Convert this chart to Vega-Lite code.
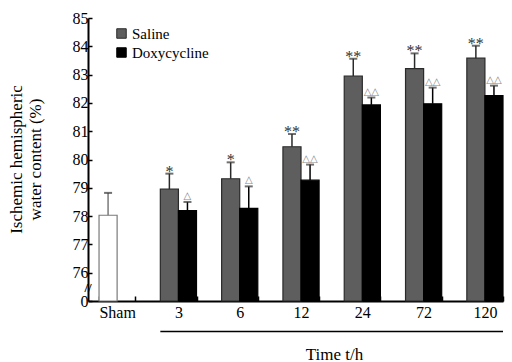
{
  "$schema": "https://vega.github.io/schema/vega-lite/v6.json",
  "width": 415,
  "height": 283,
  "autosize": "none",
  "padding": {"left": 88, "top": 18, "right": 9, "bottom": 61},
  "background": "white",
  "config": {
    "font": "Liberation Serif",
    "view": {"stroke": null},
    "axis": {"grid": false}
  },
  "datasets": {
    "water": [
      {"time": "Sham", "group": "Sham", "value": 78.03, "upper": 78.82, "sig": ""},
      {"time": "3", "group": "Saline", "value": 78.95, "upper": 79.5, "sig": "*"},
      {"time": "3", "group": "Doxycycline", "value": 78.19, "upper": 78.5, "sig": "△"},
      {"time": "6", "group": "Saline", "value": 79.32, "upper": 79.9, "sig": "*"},
      {"time": "6", "group": "Doxycycline", "value": 78.27, "upper": 79.05, "sig": "△"},
      {"time": "12", "group": "Saline", "value": 80.45, "upper": 80.9, "sig": "**"},
      {"time": "12", "group": "Doxycycline", "value": 79.27, "upper": 79.82, "sig": "△△"},
      {"time": "24", "group": "Saline", "value": 82.95, "upper": 83.56, "sig": "**"},
      {"time": "24", "group": "Doxycycline", "value": 81.93, "upper": 82.19, "sig": "△△"},
      {"time": "72", "group": "Saline", "value": 83.21, "upper": 83.75, "sig": "**"},
      {"time": "72", "group": "Doxycycline", "value": 81.97, "upper": 82.54, "sig": "△△"},
      {"time": "120", "group": "Saline", "value": 83.58, "upper": 84.02, "sig": "**"},
      {"time": "120", "group": "Doxycycline", "value": 82.26, "upper": 82.61, "sig": "△△"}
    ],
    "span": [{"from": "3", "to": "120", "level": 73.92}],
    "brk": [{"time": "Sham", "level": 75.45, "mark": "//"}]
  },
  "layer": [
    {
      "data": {"name": "water"},
      "transform": [{"calculate": "datum.group == 'Doxycycline' ? 'b' : 'a'", "as": "slot"}],
      "mark": {"type": "bar", "strokeWidth": 1.2},
      "encoding": {
        "x": {
          "field": "time", "type": "nominal", "sort": null,
          "scale": {"domain": ["Sham", "3", "6", "12", "24", "72", "120"], "paddingInner": 0.41, "paddingOuter": 0.09, "align": 1},
          "axis": {"title": "Time t/h", "labelFont": "Liberation Serif", "titleFont": "Liberation Serif", "titleFontWeight": "normal", "labelFontSize": 16, "titleFontSize": 17, "labelColor": "#000", "titleColor": "#000", "domainColor": "#000", "tickColor": "#000", "domainWidth": 2, "tickWidth": 1.5, "labelAngle": 0, "tickBand": "extent", "tickSize": -5, "labelPadding": 8, "titleX": 246, "titleY": 58, "titleBaseline": "alphabetic", "labelOverlap": false}
        },
        "xOffset": {"field": "slot", "type": "nominal", "sort": null, "scale": {"domain": ["a", "b"], "paddingInner": 0, "paddingOuter": 0}},
        "y": {
          "field": "value", "type": "quantitative",
          "scale": {"domain": [75, 85], "nice": false, "zero": false},
          "axis": {"title": ["Ischemic hemispheric", "water content (%)"], "values": [75, 76, 77, 78, 79, 80, 81, 82, 83, 84, 85], "labelExpr": "datum.value == 75 ? '0' : datum.label", "labelOverlap": false, "labelFont": "Liberation Serif", "titleFont": "Liberation Serif", "titleFontWeight": "normal", "labelFontSize": 16, "titleFontSize": 17, "labelColor": "#000", "titleColor": "#000", "domainColor": "#000", "tickColor": "#000", "domainWidth": 2, "tickWidth": 1.5, "tickSize": -4, "labelPadding": 4, "titleLineHeight": 19, "titleAngle": -90, "titleAlign": "center", "titleBaseline": "middle", "titleX": -72, "titleY": 141}
        },
        "y2": {"datum": 75},
        "color": {
          "field": "group", "type": "nominal",
          "scale": {"domain": ["Saline", "Doxycycline", "Sham"], "range": ["#5e5e5e", "#000000", "#ffffff"]},
          "legend": {
            "orient": "none",
            "legendX": 26,
            "legendY": 8,
            "title": null,
            "values": ["Saline", "Doxycycline"],
            "symbolType": "square",
            "symbolSize": 90,
            "symbolStrokeColor": "#333",
            "symbolStrokeWidth": 1,
            "labelFont": "Liberation Serif",
            "labelFontSize": 15,
            "labelColor": "#000",
            "labelOffset": 3,
            "rowPadding": 3
          }
        },
        "stroke": {
          "field": "group", "type": "nominal",
          "scale": {"domain": ["Saline", "Doxycycline", "Sham"], "range": ["#2a2a2a", "#000000", "#7a7a7a"]},
          "legend": null
        }
      }
    },
    {
      "data": {"name": "water"},
      "transform": [{"calculate": "datum.group == 'Doxycycline' ? 'b' : 'a'", "as": "slot"}],
      "mark": {"type": "rule", "strokeWidth": 1.5},
      "encoding": {
        "x": {"field": "time", "type": "nominal", "sort": null, "axis": {"title": "Time t/h", "labelFont": "Liberation Serif", "titleFont": "Liberation Serif", "titleFontWeight": "normal", "labelFontSize": 16, "titleFontSize": 17, "labelColor": "#000", "titleColor": "#000", "domainColor": "#000", "tickColor": "#000", "domainWidth": 2, "tickWidth": 1.5, "labelAngle": 0, "tickBand": "extent", "tickSize": -5, "labelPadding": 8, "titleX": 246, "titleY": 58, "titleBaseline": "alphabetic", "labelOverlap": false}},
        "xOffset": {"field": "slot", "type": "nominal", "sort": null},
        "y": {"field": "value", "type": "quantitative", "axis": {"title": ["Ischemic hemispheric", "water content (%)"], "values": [75, 76, 77, 78, 79, 80, 81, 82, 83, 84, 85], "labelExpr": "datum.value == 75 ? '0' : datum.label", "labelOverlap": false, "labelFont": "Liberation Serif", "titleFont": "Liberation Serif", "titleFontWeight": "normal", "labelFontSize": 16, "titleFontSize": 17, "labelColor": "#000", "titleColor": "#000", "domainColor": "#000", "tickColor": "#000", "domainWidth": 2, "tickWidth": 1.5, "tickSize": -4, "labelPadding": 4, "titleLineHeight": 19, "titleAngle": -90, "titleAlign": "center", "titleBaseline": "middle", "titleX": -72, "titleY": 141}},
        "y2": {"field": "upper"},
        "stroke": {"field": "group", "type": "nominal", "legend": null}
      }
    },
    {
      "data": {"name": "water"},
      "transform": [{"calculate": "datum.group == 'Doxycycline' ? 'b' : 'a'", "as": "slot"}],
      "mark": {"type": "tick", "thickness": 2, "size": 8, "orient": "horizontal", "color": "#333"},
      "encoding": {
        "x": {"field": "time", "type": "nominal", "sort": null, "axis": {"title": "Time t/h", "labelFont": "Liberation Serif", "titleFont": "Liberation Serif", "titleFontWeight": "normal", "labelFontSize": 16, "titleFontSize": 17, "labelColor": "#000", "titleColor": "#000", "domainColor": "#000", "tickColor": "#000", "domainWidth": 2, "tickWidth": 1.5, "labelAngle": 0, "tickBand": "extent", "tickSize": -5, "labelPadding": 8, "titleX": 246, "titleY": 58, "titleBaseline": "alphabetic", "labelOverlap": false}},
        "xOffset": {"field": "slot", "type": "nominal", "sort": null},
        "y": {"field": "upper", "type": "quantitative", "axis": {"title": ["Ischemic hemispheric", "water content (%)"], "values": [75, 76, 77, 78, 79, 80, 81, 82, 83, 84, 85], "labelExpr": "datum.value == 75 ? '0' : datum.label", "labelOverlap": false, "labelFont": "Liberation Serif", "titleFont": "Liberation Serif", "titleFontWeight": "normal", "labelFontSize": 16, "titleFontSize": 17, "labelColor": "#000", "titleColor": "#000", "domainColor": "#000", "tickColor": "#000", "domainWidth": 2, "tickWidth": 1.5, "tickSize": -4, "labelPadding": 4, "titleLineHeight": 19, "titleAngle": -90, "titleAlign": "center", "titleBaseline": "middle", "titleX": -72, "titleY": 141}}
      }
    },
    {
      "data": {"name": "water"},
      "transform": [
        {"filter": "datum.group == 'Saline'"},
        {"calculate": "'a'", "as": "slot"}
      ],
      "mark": {"type": "text", "font": "Liberation Serif", "fontSize": 16, "baseline": "alphabetic", "dy": 3, "color": "#333"},
      "encoding": {
        "x": {"field": "time", "type": "nominal", "sort": null, "axis": {"title": "Time t/h", "labelFont": "Liberation Serif", "titleFont": "Liberation Serif", "titleFontWeight": "normal", "labelFontSize": 16, "titleFontSize": 17, "labelColor": "#000", "titleColor": "#000", "domainColor": "#000", "tickColor": "#000", "domainWidth": 2, "tickWidth": 1.5, "labelAngle": 0, "tickBand": "extent", "tickSize": -5, "labelPadding": 8, "titleX": 246, "titleY": 58, "titleBaseline": "alphabetic", "labelOverlap": false}},
        "xOffset": {"field": "slot", "type": "nominal", "sort": null},
        "y": {"field": "upper", "type": "quantitative", "axis": {"title": ["Ischemic hemispheric", "water content (%)"], "values": [75, 76, 77, 78, 79, 80, 81, 82, 83, 84, 85], "labelExpr": "datum.value == 75 ? '0' : datum.label", "labelOverlap": false, "labelFont": "Liberation Serif", "titleFont": "Liberation Serif", "titleFontWeight": "normal", "labelFontSize": 16, "titleFontSize": 17, "labelColor": "#000", "titleColor": "#000", "domainColor": "#000", "tickColor": "#000", "domainWidth": 2, "tickWidth": 1.5, "tickSize": -4, "labelPadding": 4, "titleLineHeight": 19, "titleAngle": -90, "titleAlign": "center", "titleBaseline": "middle", "titleX": -72, "titleY": 141}},
        "text": {"field": "sig"}
      }
    },
    {
      "data": {"name": "water"},
      "transform": [
        {"filter": "datum.group == 'Doxycycline'"},
        {"calculate": "'b'", "as": "slot"}
      ],
      "mark": {"type": "text", "font": "DejaVu Sans", "fontSize": 10, "baseline": "bottom", "dy": -1, "color": "#888"},
      "encoding": {
        "x": {"field": "time", "type": "nominal", "sort": null, "axis": {"title": "Time t/h", "labelFont": "Liberation Serif", "titleFont": "Liberation Serif", "titleFontWeight": "normal", "labelFontSize": 16, "titleFontSize": 17, "labelColor": "#000", "titleColor": "#000", "domainColor": "#000", "tickColor": "#000", "domainWidth": 2, "tickWidth": 1.5, "labelAngle": 0, "tickBand": "extent", "tickSize": -5, "labelPadding": 8, "titleX": 246, "titleY": 58, "titleBaseline": "alphabetic", "labelOverlap": false}},
        "xOffset": {"field": "slot", "type": "nominal", "sort": null},
        "y": {"field": "upper", "type": "quantitative", "axis": {"title": ["Ischemic hemispheric", "water content (%)"], "values": [75, 76, 77, 78, 79, 80, 81, 82, 83, 84, 85], "labelExpr": "datum.value == 75 ? '0' : datum.label", "labelOverlap": false, "labelFont": "Liberation Serif", "titleFont": "Liberation Serif", "titleFontWeight": "normal", "labelFontSize": 16, "titleFontSize": 17, "labelColor": "#000", "titleColor": "#000", "domainColor": "#000", "tickColor": "#000", "domainWidth": 2, "tickWidth": 1.5, "tickSize": -4, "labelPadding": 4, "titleLineHeight": 19, "titleAngle": -90, "titleAlign": "center", "titleBaseline": "middle", "titleX": -72, "titleY": 141}},
        "text": {"field": "sig"}
      }
    },
    {
      "data": {"name": "span"},
      "mark": {"type": "rule", "strokeWidth": 1.5, "color": "#000"},
      "encoding": {
        "x": {"field": "from", "type": "nominal", "sort": null, "bandPosition": 0, "axis": {"title": "Time t/h", "labelFont": "Liberation Serif", "titleFont": "Liberation Serif", "titleFontWeight": "normal", "labelFontSize": 16, "titleFontSize": 17, "labelColor": "#000", "titleColor": "#000", "domainColor": "#000", "tickColor": "#000", "domainWidth": 2, "tickWidth": 1.5, "labelAngle": 0, "tickBand": "extent", "tickSize": -5, "labelPadding": 8, "titleX": 246, "titleY": 58, "titleBaseline": "alphabetic", "labelOverlap": false}},
        "x2": {"field": "to", "bandPosition": 1},
        "y": {"field": "level", "type": "quantitative", "axis": {"title": ["Ischemic hemispheric", "water content (%)"], "values": [75, 76, 77, 78, 79, 80, 81, 82, 83, 84, 85], "labelExpr": "datum.value == 75 ? '0' : datum.label", "labelOverlap": false, "labelFont": "Liberation Serif", "titleFont": "Liberation Serif", "titleFontWeight": "normal", "labelFontSize": 16, "titleFontSize": 17, "labelColor": "#000", "titleColor": "#000", "domainColor": "#000", "tickColor": "#000", "domainWidth": 2, "tickWidth": 1.5, "tickSize": -4, "labelPadding": 4, "titleLineHeight": 19, "titleAngle": -90, "titleAlign": "center", "titleBaseline": "middle", "titleX": -72, "titleY": 141}}
      }
    },
    {
      "data": {"name": "brk"},
      "mark": {"type": "text", "font": "Liberation Serif", "fontSize": 13, "fontWeight": "bold", "baseline": "middle", "align": "center", "dx": -11, "color": "#000"},
      "encoding": {
        "x": {"field": "time", "type": "nominal", "sort": null, "bandPosition": 0, "axis": {"title": "Time t/h", "labelFont": "Liberation Serif", "titleFont": "Liberation Serif", "titleFontWeight": "normal", "labelFontSize": 16, "titleFontSize": 17, "labelColor": "#000", "titleColor": "#000", "domainColor": "#000", "tickColor": "#000", "domainWidth": 2, "tickWidth": 1.5, "labelAngle": 0, "tickBand": "extent", "tickSize": -5, "labelPadding": 8, "titleX": 246, "titleY": 58, "titleBaseline": "alphabetic", "labelOverlap": false}},
        "y": {"field": "level", "type": "quantitative", "axis": {"title": ["Ischemic hemispheric", "water content (%)"], "values": [75, 76, 77, 78, 79, 80, 81, 82, 83, 84, 85], "labelExpr": "datum.value == 75 ? '0' : datum.label", "labelOverlap": false, "labelFont": "Liberation Serif", "titleFont": "Liberation Serif", "titleFontWeight": "normal", "labelFontSize": 16, "titleFontSize": 17, "labelColor": "#000", "titleColor": "#000", "domainColor": "#000", "tickColor": "#000", "domainWidth": 2, "tickWidth": 1.5, "tickSize": -4, "labelPadding": 4, "titleLineHeight": 19, "titleAngle": -90, "titleAlign": "center", "titleBaseline": "middle", "titleX": -72, "titleY": 141}},
        "text": {"field": "mark"}
      }
    }
  ]
}
